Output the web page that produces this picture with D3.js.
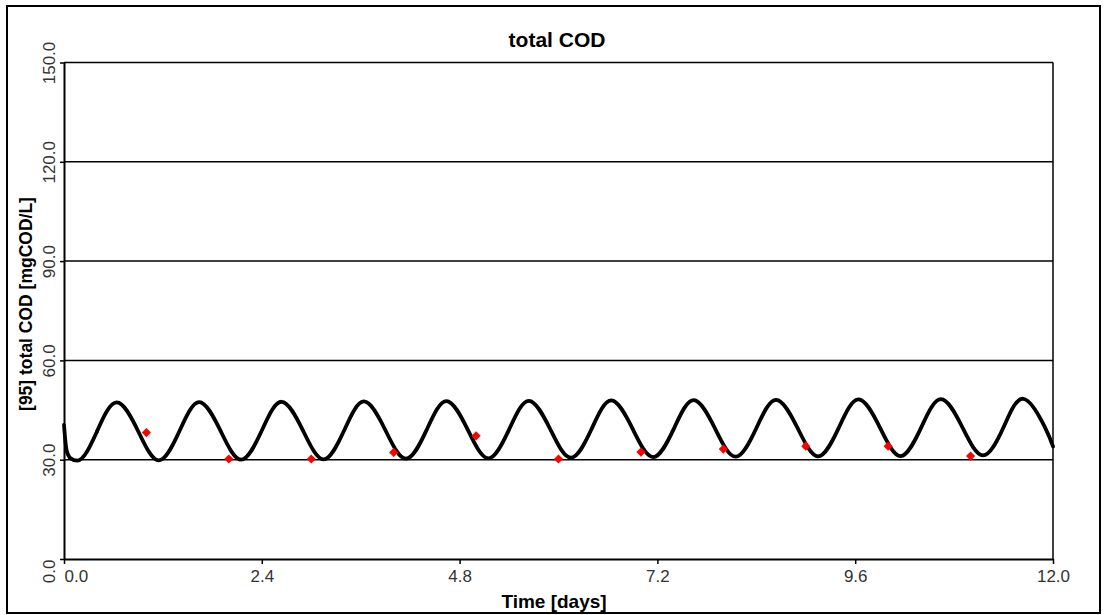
<!DOCTYPE html>
<html>
<head>
<meta charset="utf-8">
<script src="https://cdn.jsdelivr.net/npm/d3@7"></script>
<style>
  html, body { margin: 0; padding: 0; background: #fff; }
  svg { display: block; }
</style>
</head>
<body>
<svg id="chart" width="1105" height="615"></svg>
<script>
// ---- data ----
const chartTitle = "total COD";
const xTitle = "Time [days]";
const yTitle = "[95] total COD [mgCOD/L]";
const xTicks = [0, 2.4, 4.8, 7.2, 9.6, 12.0];
const yTicks = [0, 30, 60, 90, 120, 150];

// simulated line (days, mgCOD/L)
const simTime = [0, 0.03, 0.08, 0.16, 0.40, 0.64, 0.90,
  1.15, 1.40, 1.64, 1.90, 2.15, 2.40, 2.64, 2.90,
  3.15, 3.40, 3.64, 3.90, 4.15, 4.40, 4.64, 4.90,
  5.15, 5.40, 5.64, 5.90, 6.15, 6.40, 6.64, 6.90,
  7.15, 7.40, 7.64, 7.90, 8.15, 8.40, 8.64, 8.90,
  9.15, 9.40, 9.64, 9.90, 10.15, 10.40, 10.64, 10.90,
  11.15, 11.40, 11.64, 11.90, 12.0];
const simValue = [40.5, 33.0, 30.4, 29.7, 38.5, 47.3, 38.6,
  29.8, 38.6, 47.4, 38.7, 30.0, 38.8, 47.5, 38.8,
  30.1, 38.9, 47.6, 38.9, 30.3, 39.0, 47.7, 39.0,
  30.4, 39.1, 47.8, 39.2, 30.6, 39.2, 47.9, 39.3,
  30.8, 39.4, 48.0, 39.4, 30.9, 39.5, 48.1, 39.6,
  31.0, 39.6, 48.2, 39.7, 31.1, 39.7, 48.3, 39.8,
  31.3, 39.8, 48.4, 39.9, 34.0];

// measured points
const obsTime = [1, 2, 3, 4, 5, 6, 7, 8, 9, 10, 11];
const obsValue = [38.2, 30.2, 30.2, 32.2, 37.2, 30.2, 32.3, 33.2, 34.1, 34.1, 31.1];

// ---- layout ----
const svg = d3.select("#chart");
const plotL = 64, plotR = 1053, plotT = 62.5, plotB = 559;

const x = d3.scaleLinear().domain([0, 12]).range([plotL, plotR]);
const y = d3.scaleLinear().domain([0, 150]).range([plotB, plotT]);

// outer frame
svg.append("rect").attr("x", 7).attr("y", 6).attr("width", 1093).attr("height", 607)
  .attr("fill", "none").attr("stroke", "#000").attr("stroke-width", 2);

// gridlines
svg.append("g").selectAll("line").data(yTicks.filter(d => d > 0)).join("line")
  .attr("x1", plotL).attr("x2", plotR)
  .attr("y1", d => y(d)).attr("y2", d => y(d))
  .attr("stroke", "#000").attr("stroke-width", 1.5);

// right border
svg.append("line").attr("x1", plotR).attr("x2", plotR).attr("y1", plotT).attr("y2", plotB)
  .attr("stroke", "#000").attr("stroke-width", 1.5);

// x axis
const xAxis = d3.axisBottom(x).tickValues(xTicks).tickFormat(d3.format(".1f"))
  .tickSize(5).tickSizeOuter(0);
const gx = svg.append("g").attr("transform", `translate(0,${plotB})`).call(xAxis);
gx.select(".domain").attr("stroke", "#000").attr("stroke-width", 2);
gx.selectAll(".tick line").attr("stroke", "#000").attr("stroke-width", 1.5);
gx.selectAll(".tick text")
  .attr("y", 23).attr("dy", 0)
  .attr("font-family", "Liberation Sans, Arial, sans-serif")
  .attr("font-size", 17).attr("fill", "#333")
  .attr("text-anchor", (d, i) => i === 0 ? "start" : "middle");

// y axis
const yAxis = d3.axisLeft(y).tickValues(yTicks).tickFormat(d3.format(".1f"))
  .tickSize(4).tickSizeOuter(0);
const gy = svg.append("g").attr("transform", `translate(${plotL},0)`).call(yAxis);
gy.select(".domain").attr("stroke", "#000").attr("stroke-width", 2);
gy.selectAll(".tick line").attr("stroke", "#000").attr("stroke-width", 1.5);
gy.selectAll(".tick text")
  .attr("x", 0).attr("dy", 0).attr("y", 0)
  .attr("transform", "translate(-9,0) rotate(-90)")
  .attr("font-family", "Liberation Sans, Arial, sans-serif")
  .attr("font-size", 17).attr("fill", "#333")
  .attr("text-anchor", (d, i) => i === 0 ? "end" : "middle");

// simulated line: start-up transient (monotone) + periodic part (natural spline)
const simData = simTime.map((t, i) => ({ t, v: simValue[i] }));
const splitIdx = 4; // first mid-rise point
const lineMono = d3.line().x(d => x(d.t)).y(d => y(d.v)).curve(d3.curveMonotoneX);
const lineNat = d3.line().x(d => x(d.t)).y(d => y(d.v)).curve(d3.curveNatural);
const simG = svg.append("g")
  .attr("fill", "none").attr("stroke", "#000").attr("stroke-width", 3.8)
  .attr("stroke-linejoin", "round").attr("stroke-linecap", "round");
simG.append("path").datum(simData.slice(0, splitIdx + 1)).attr("d", lineMono);
simG.append("path").datum(simData.slice(splitIdx)).attr("d", lineNat);

// observed points (red diamonds)
const obsData = obsTime.map((t, i) => ({ t, v: obsValue[i] }));
svg.append("g").selectAll("path").data(obsData).join("path")
  .attr("d", d3.symbol().type(d3.symbolSquare).size(42))
  .attr("transform", d => `translate(${x(d.t)},${y(d.v)}) rotate(45)`)
  .attr("fill", "#ff0000");

// titles
svg.append("text").attr("x", 557).attr("y", 47).attr("text-anchor", "middle")
  .attr("font-family", "Liberation Sans, Arial, sans-serif").attr("font-weight", "bold")
  .attr("font-size", 21).attr("fill", "#000").text(chartTitle);

svg.append("text").attr("x", 554).attr("y", 608).attr("text-anchor", "middle")
  .attr("font-family", "Liberation Sans, Arial, sans-serif").attr("font-weight", "bold")
  .attr("font-size", 19).attr("fill", "#000").text(xTitle);

svg.append("text").attr("transform", "translate(32,304) rotate(-90)").attr("text-anchor", "middle")
  .attr("font-family", "Liberation Sans, Arial, sans-serif").attr("font-weight", "bold")
  .attr("font-size", 17.5).attr("fill", "#000").text(yTitle);
</script>
</body>
</html>
